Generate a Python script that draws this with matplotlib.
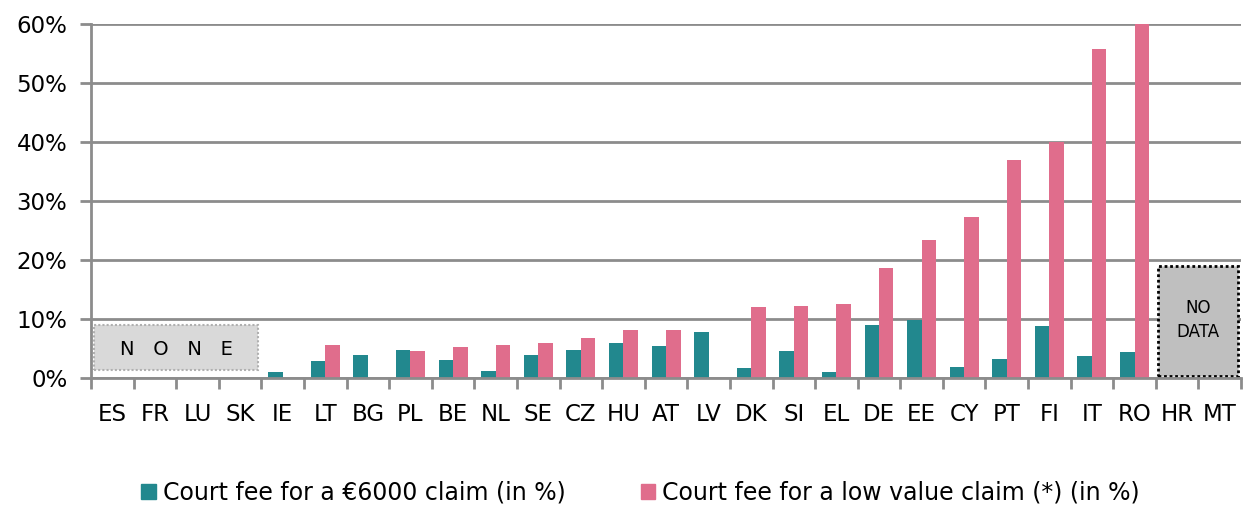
import matplotlib
matplotlib.use("Agg")
import matplotlib.pyplot as plt
from matplotlib.patches import Rectangle
from matplotlib.ticker import FixedLocator, FuncFormatter
import numpy as np

countries = ["ES", "FR", "LU", "SK", "IE", "LT", "BG", "PL", "BE", "NL", "SE", "CZ", "HU",
             "AT", "LV", "DK", "SI", "EL", "DE", "EE", "CY", "PT", "FI", "IT", "RO", "HR", "MT"]
fee_6000 = [0, 0, 0, 0, 1.0, 2.9, 3.9, 4.7, 3.1, 1.2, 3.9, 4.7, 5.9,
            5.4, 7.8, 1.7, 4.6, 1.0, 9.0, 9.9, 1.9, 3.3, 8.8, 3.7, 4.4, 0, 0]
fee_low = [0, 0, 0, 0, 0, 5.6, 0, 4.5, 5.2, 5.6, 5.9, 6.8, 8.1,
           8.1, 0, 12.0, 12.2, 12.5, 18.6, 23.4, 27.3, 37.0, 40.0, 55.8, 60.0, 0, 0]
yticks = [0, 10, 20, 30, 40, 50, 60]
legend_labels = ["Court fee for a €6000 claim (in %)", "Court fee for a low value claim (*) (in %)"]

teal = "#22888e"
pink = "#e06d8c"
grid = "#8c8c8c"

fig = plt.figure(figsize=(12.44, 5.08), dpi=100)
ax = fig.add_axes([0.0732, 0.2559, 0.9244, 0.6969])

x = np.arange(len(countries))
w = 0.34
ax.bar(x - w / 2, fee_6000, width=w, color=teal, zorder=3)
ax.bar(x + w / 2, fee_low, width=w, color=pink, zorder=3)

ax.set_xlim(-0.5, len(countries) - 0.5)
ax.set_ylim(0, 60)
ax.set_yticks(yticks)
ax.yaxis.set_major_formatter(FuncFormatter(lambda v, p: f"{int(v)}%"))
ax.yaxis.grid(True, color=grid, linewidth=2, zorder=1)
ax.tick_params(axis="y", length=8, width=2, color=grid, labelsize=16.5, pad=9)

ax.set_xticks(x)
ax.set_xticklabels(countries)
ax.tick_params(axis="x", which="major", length=0, labelsize=16.5, pad=18)
ax.xaxis.set_minor_locator(FixedLocator(np.arange(len(countries) + 1) - 0.5))
ax.tick_params(axis="x", which="minor", length=8, width=2, color=grid)

for s in ["top", "right"]:
    ax.spines[s].set_visible(False)
for s in ["left", "bottom"]:
    ax.spines[s].set_color(grid)
    ax.spines[s].set_linewidth(2)
ax.spines["bottom"].set_zorder(4)

# NONE box
ax.add_patch(Rectangle((-0.43, 1.3), 3.86, 7.6, facecolor="#d9d9d9", edgecolor="#b0b0b0",
                       linestyle=(0, (1, 1)), linewidth=1.5, zorder=4))
ax.text(1.5, 4.9, "N   O   N   E", ha="center", va="center", fontsize=14, zorder=5)

# NO DATA box
ax.add_patch(Rectangle((24.56, 0.4), 1.88, 18.6, facecolor="#bfbfbf", edgecolor="black",
                       linestyle=(0, (1, 1)), linewidth=2, zorder=4))
ax.text(25.5, 9.8, "NO\nDATA", ha="center", va="center", fontsize=12, zorder=5, linespacing=1.4)

handles = [Rectangle((0, 0), 1, 1, color=teal), Rectangle((0, 0), 1, 1, color=pink)]
fig.legend(handles, legend_labels, loc="lower center", bbox_to_anchor=(0.515, -0.035), ncol=2,
           frameon=False, fontsize=17, handlelength=0.6, handleheight=0.6, handletextpad=0.3,
           columnspacing=3.2)

fig.savefig("out.png", dpi=100)
